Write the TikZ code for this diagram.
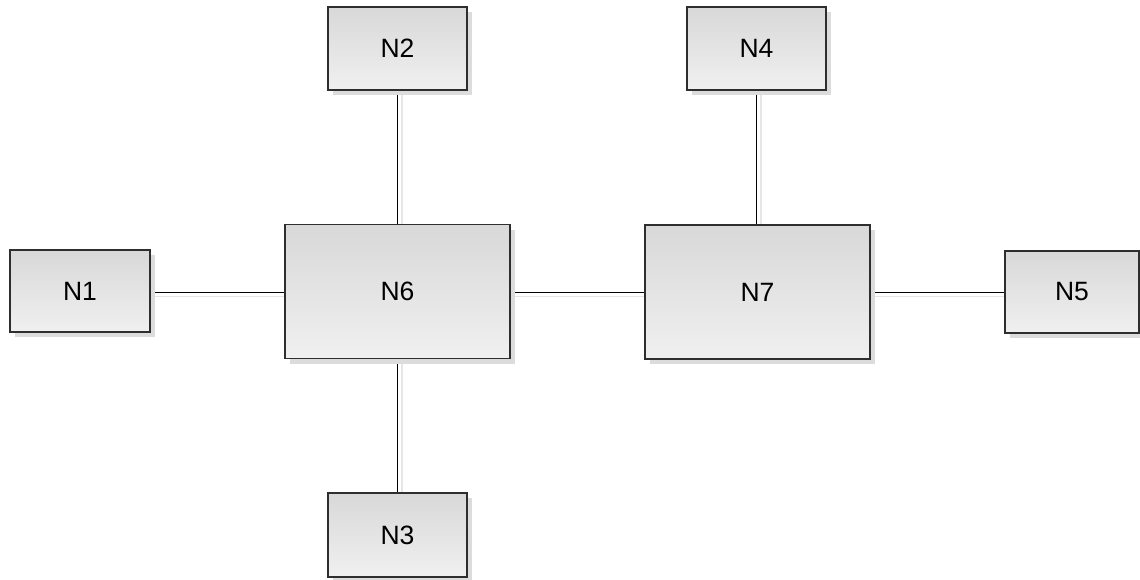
\documentclass[tikz,border=0pt]{standalone}
\usepackage{fontspec}
\setmainfont{Liberation Sans}
\usetikzlibrary{shadows,backgrounds}
\definecolor{boxtop}{HTML}{D8D8D8}
\definecolor{boxbottom}{HTML}{F0F0F0}
\definecolor{boxline}{HTML}{2E2E2E}
\definecolor{shadowgray}{HTML}{DCDCDC}
\definecolor{linkgray}{HTML}{E6E6E6}
\begin{document}
\begin{tikzpicture}[x=1pt,y=-1pt,
  box/.style={draw=boxline, line width=1.2pt, top color=boxtop, bottom color=boxbottom,
    inner sep=0pt, font=\fontsize{26.5}{30}\selectfont,
    drop shadow={shadow xshift=5pt, shadow yshift=-5pt, fill=shadowgray, opacity=1}},
  smallbox/.style={box, minimum width=139pt, minimum height=83pt},
  bigbox/.style={box, minimum width=225pt, minimum height=134pt},
  link/.style={draw=black, line width=1pt},
  linkshadow/.style={draw=linkgray, line width=1.8pt, transform canvas={shift={(4.5pt,-4.5pt)}}}]
  \useasboundingbox (0,0) rectangle (1140,579);
  % blocks
  \node[bigbox] (n6) at (397.5,291.5) {N6};
  \node[bigbox] (n7) at (757.5,292) {N7};
  \node[smallbox, minimum width=140pt, minimum height=82pt] (n1) at (80,291) {N1};
  \node[smallbox] (n2) at (397.5,48.5) {N2};
  \node[smallbox, minimum height=84pt] (n3) at (397.5,535) {N3};
  \node[smallbox] (n4) at (756.5,48.5) {N4};
  \node[smallbox, minimum width=134pt, minimum height=82pt] (n5) at (1072,292) {N5};
  % connectors with their soft shadows, behind the blocks
  \begin{scope}[on background layer]
    \foreach \a/\b in {n1/n6, n6/n7, n7/n5}{
      \path[linkshadow] (\a.east |- 0,292) -- (\b.west |- 0,292);
      \path[link] (\a.east |- 0,292) -- (\b.west |- 0,292);
    }
    \path[linkshadow] (n2.south) -- (n6.north);
    \path[link] (n2.south) -- (n6.north);
    \path[linkshadow] (n6.south) -- (n3.north);
    \path[link] (n6.south) -- (n3.north);
    \path[linkshadow] (n4.south) -- (n4.south |- n7.north);
    \path[link] (n4.south) -- (n4.south |- n7.north);
  \end{scope}
\end{tikzpicture}
\end{document}
